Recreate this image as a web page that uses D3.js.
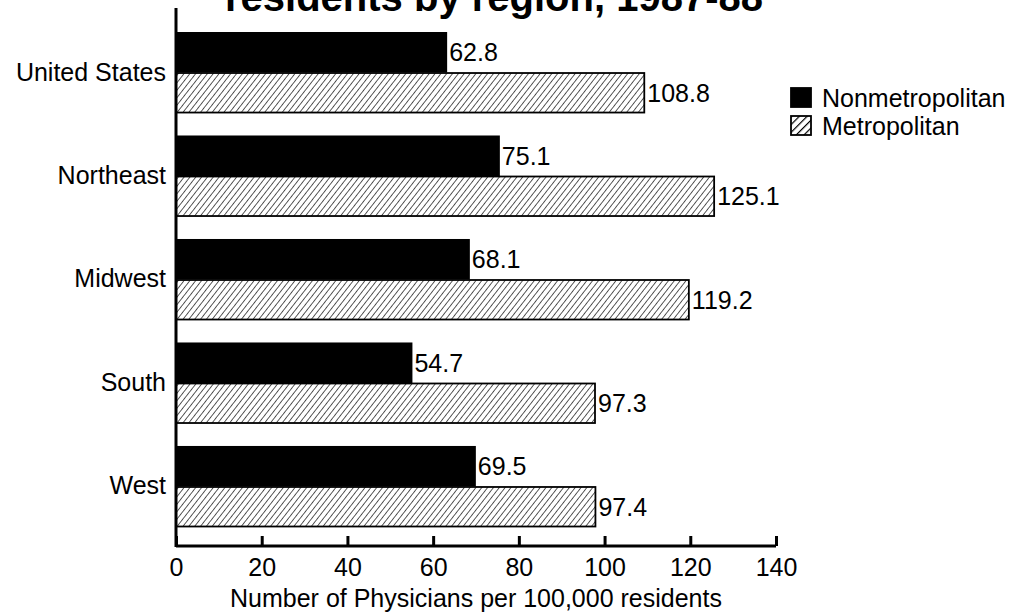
<!DOCTYPE html>
<html>
<head>
<meta charset="utf-8">
<script src="https://cdnjs.cloudflare.com/ajax/libs/d3/7.8.5/d3.min.js"></script>
<style>
  body { margin: 0; background: #fff; }
  text { font-family: "Liberation Sans", Arial, sans-serif; fill: #000; }
</style>
</head>
<body>
<div id="container"></div>
<script>
var regions = ["United States", "Northeast", "Midwest", "South", "West"];
var nonmetro = [62.8, 75.1, 68.1, 54.7, 69.5];
var metro = [108.8, 125.1, 119.2, 97.3, 97.4];
var seriesNames = ["Nonmetropolitan", "Metropolitan"];
var xTicks = [0, 20, 40, 60, 80, 100, 120, 140];

var svgAttr = { width: 1013, height: 616 };
var svg = d3.select("#container").append("svg")
    .attr("width", svgAttr.width).attr("height", svgAttr.height);

// hatch patterns: fine for bars, coarse for the legend swatch
var defs = svg.append("defs");
function hatch(id, w, sw, angle) {
    var p = defs.append("pattern").attr("id", id)
        .attr("patternUnits", "userSpaceOnUse")
        .attr("width", w).attr("height", w)
        .attr("patternTransform", "rotate(" + angle + ")");
    p.append("rect").attr("width", w).attr("height", w).attr("fill", "#fff");
    p.append("line").attr("x1", 0).attr("y1", 0).attr("x2", 0).attr("y2", w)
        .attr("stroke", "#000").attr("stroke-width", sw);
}
hatch("hatch", 4.6, 1.3, 38);
hatch("hatchBig", 5.5, 2.4, 45);

var x = d3.scaleLinear().domain([0, 140]).range([176, 776]);
var y = d3.scaleBand().domain(regions).range([32, 527]).paddingInner(0.217).paddingOuter(0);
var ySub = d3.scaleBand().domain(seriesNames).range([0, y.bandwidth()]);

// title (top half cut off by the page edge, as in the source)
svg.append("text").attr("x", 494).attr("y", 11)
    .attr("text-anchor", "middle")
    .style("font-size", "40px").style("font-weight", "bold")
    .text("residents by region, 1987-88");

var groups = svg.selectAll("g.region").data(regions).enter()
    .append("g").attr("class", "region")
    .attr("transform", function (d) { return "translate(0," + y(d) + ")"; });

groups.append("rect")
    .attr("x", x(0)).attr("y", ySub("Nonmetropolitan"))
    .attr("width", function (d, i) { return x(nonmetro[i]) - x(0) + 2; })
    .attr("height", ySub.bandwidth())
    .attr("fill", "#000");

groups.append("rect")
    .attr("x", x(0)).attr("y", ySub("Metropolitan") + 0.5)
    .attr("width", function (d, i) { return x(metro[i]) - x(0) + 2; })
    .attr("height", ySub.bandwidth() - 1)
    .attr("fill", "url(#hatch)").attr("stroke", "#000").attr("stroke-width", 1.8);

groups.append("text")
    .attr("x", function (d, i) { return x(nonmetro[i]) + 4; })
    .attr("y", ySub("Nonmetropolitan") + ySub.bandwidth() / 2 + 9)
    .style("font-size", "25px")
    .text(function (d, i) { return nonmetro[i].toFixed(1); });

groups.append("text")
    .attr("x", function (d, i) { return x(metro[i]) + 5; })
    .attr("y", ySub("Metropolitan") + ySub.bandwidth() / 2 + 9)
    .style("font-size", "25px")
    .text(function (d, i) { return metro[i].toFixed(1); });

groups.append("text")
    .attr("x", 166).attr("y", y.bandwidth() / 2 + 8)
    .attr("text-anchor", "end")
    .style("font-size", "25px")
    .text(function (d) { return d; });

// axes
var axisY = 546;
svg.append("line").attr("x1", x(0)).attr("x2", x(0)).attr("y1", 8).attr("y2", axisY + 1)
    .attr("stroke", "#000").attr("stroke-width", 3);

var xAxis = d3.axisBottom(x).tickValues(xTicks).tickSize(-10).tickPadding(12)
    .tickFormat(d3.format("d"));
var gx = svg.append("g").attr("transform", "translate(0," + axisY + ")").call(xAxis);
gx.select(".domain").attr("stroke-width", 3).attr("d", "M" + x(0) + ",0H" + x(140));
gx.selectAll(".tick line").attr("stroke-width", 3);
gx.selectAll(".tick text").style("font-size", "25px")
    .style("font-family", "Liberation Sans, Arial, sans-serif");

svg.append("text").attr("x", 476).attr("y", 607)
    .attr("text-anchor", "middle").style("font-size", "25px")
    .text("Number of Physicians per 100,000 residents");

// legend
var legend = svg.append("g").attr("transform", "translate(791,88)");
var legItems = legend.selectAll("g").data(seriesNames).enter().append("g")
    .attr("transform", function (d, i) { return "translate(0," + i * 28 + ")"; });
legItems.append("rect").attr("width", 20).attr("height", 19)
    .attr("fill", function (d, i) { return i === 0 ? "#000" : "url(#hatchBig)"; })
    .attr("stroke", "#000").attr("stroke-width", 1.8);
legItems.append("text").attr("x", 31).attr("y", 19)
    .style("font-size", "25px")
    .text(function (d) { return d; });
</script>
</body>
</html>
